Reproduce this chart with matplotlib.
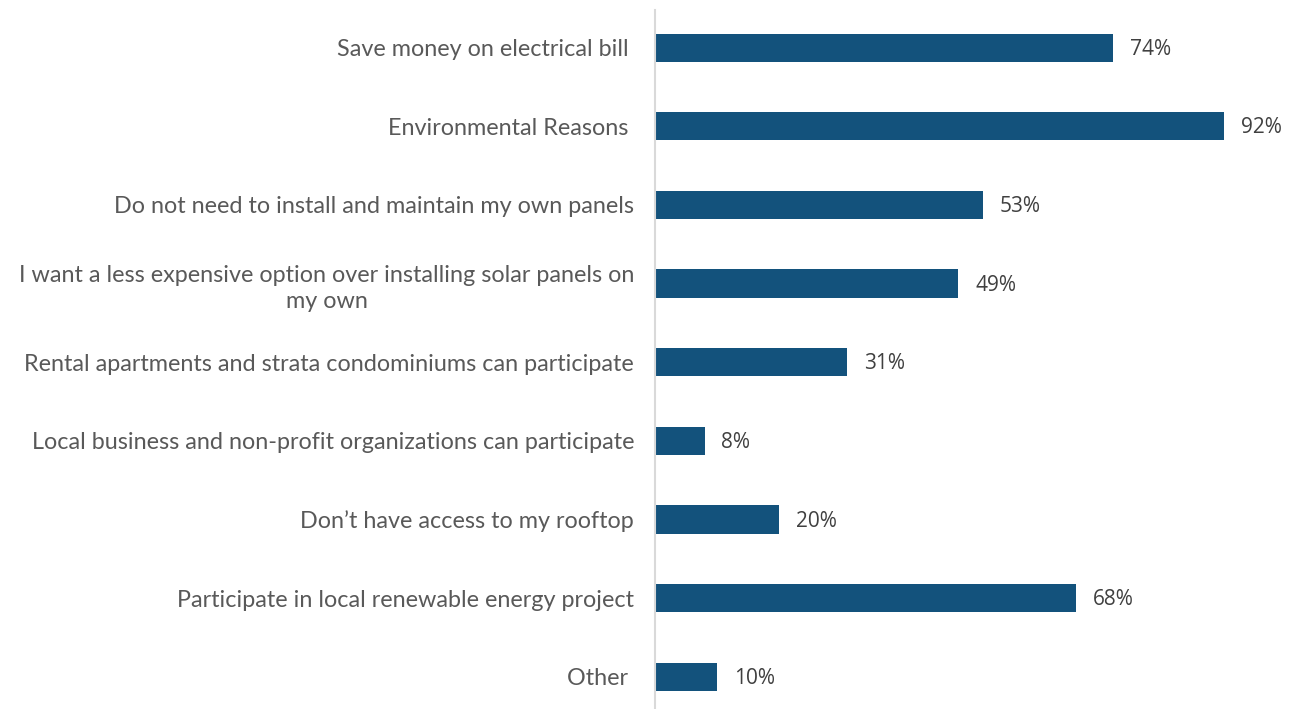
import numpy as np
import matplotlib.pyplot as plt

categories = [
    "Save money on electrical bill ",
    "Environmental Reasons ",
    "Do not need to install and maintain my own panels",
    "I want a less expensive option over installing solar panels on\nmy own",
    "Rental apartments and strata condominiums can participate",
    "Local business and non-profit organizations can participate",
    "Don\u2019t have access to my rooftop",
    "Participate in local renewable energy project",
    "Other ",
]
values = [74, 92, 53, 49, 31, 8, 20, 68, 10]

bar_color = "#13527C"
label_color = "#595959"
value_color = "#404040"

fig = plt.figure(figsize=(12.95, 7.09), dpi=100)
ax = fig.add_axes([0.5058, 0.0, 0.4942, 0.986])

y = np.arange(len(categories))
ax.barh(y, values, height=0.36, color=bar_color)

for yi, v in zip(y, values):
    ax.text(v + 2.7, yi + 0.02, f"{v}%", va="center", ha="left",
            fontsize=15, color=value_color, family="Open Sans")

ax.set_xlim(0, 103.4)
ax.set_ylim(len(categories) - 1 + 0.41, -0.48)
ax.set_yticks(y)
ax.set_yticklabels(categories, fontsize=16.8, color=label_color, family="Lato",
                   multialignment="center", linespacing=1.3)
ax.tick_params(axis="y", length=0, pad=15)
ax.set_xticks([])
for s in ["top", "right", "bottom"]:
    ax.spines[s].set_visible(False)
ax.spines["left"].set_color("#d9d9d9")
ax.spines["left"].set_linewidth(1.5)

fig.savefig("out.png", dpi=100)
